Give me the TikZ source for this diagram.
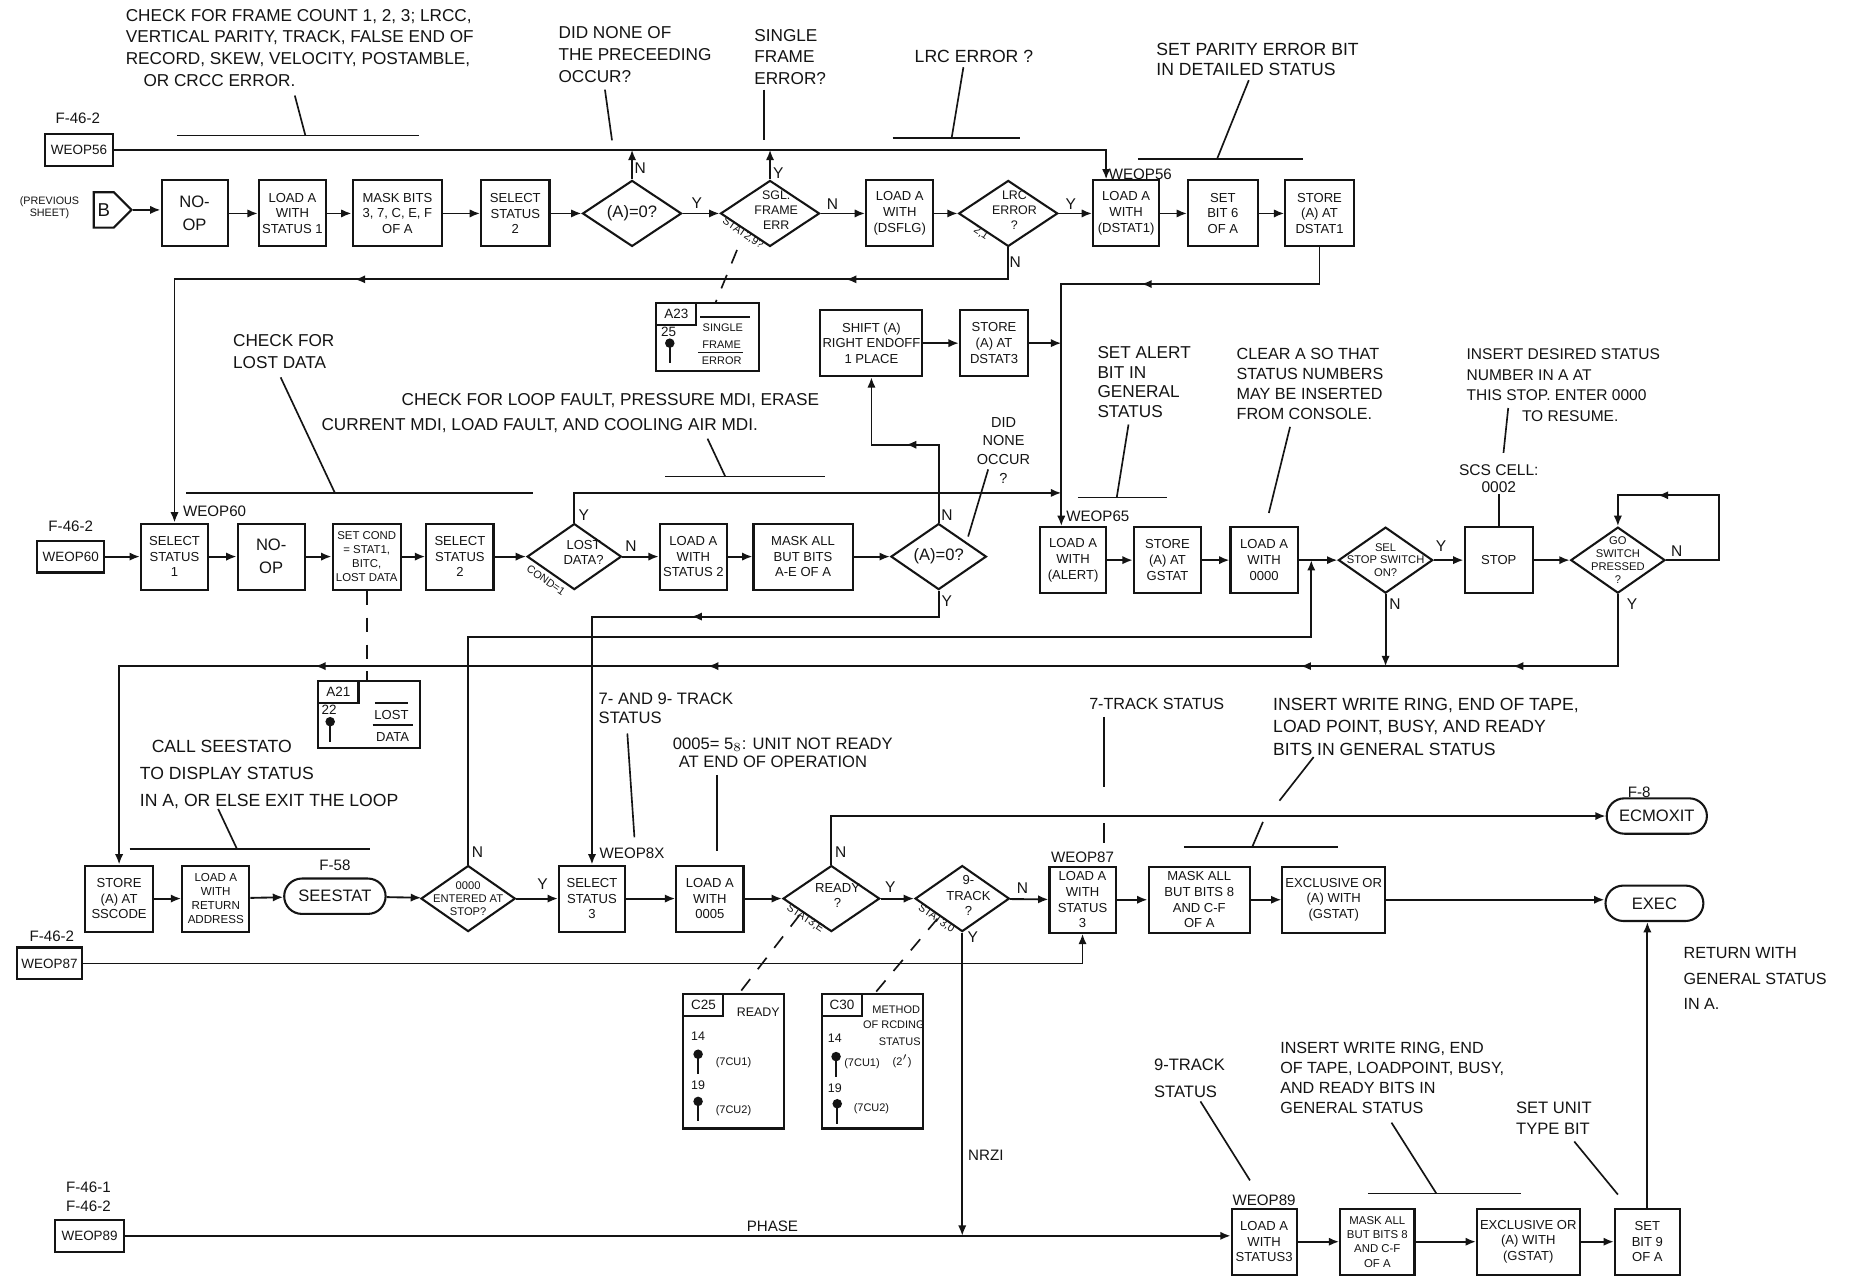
\documentclass[tikz,border=0pt]{standalone}
\usepackage{fontspec}
\setmainfont{Liberation Sans}
\usetikzlibrary{positioning,shapes.geometric,shapes.symbols,arrows.meta,decorations.markings}
\definecolor{flowInk}{HTML}{141414}
\tikzset{/pgf/decoration/tipat/.style={mark=at position #1 with {\arrow{Latex[length=5pt,width=4pt]}}}}

\begin{document}
\begin{tikzpicture}[
    x=0.02cm, y=-0.02cm,
    flowInk, line width=0.8pt,
    box/.style={draw, line width=1pt, minimum width=#1*0.02cm, minimum height=1.12cm, inner sep=1pt, align=center, font=\fontsize{6.3}{7.6}\selectfont},
    box/.default=57,
    dia/.style={draw, line width=1pt, diamond, inner sep=-0.4cm, minimum width=#1*0.02cm, minimum height=1.12cm, align=center, font=\fontsize{6}{6.8}\selectfont},
    dia/.default=84,
    term/.style={draw, line width=1pt, rounded corners=0.3cm, minimum width=#1*0.02cm, minimum height=0.6cm, inner sep=1pt, font=\fontsize{8}{9}\selectfont},
    offbox/.style={draw, line width=1pt, minimum width=#1*0.02cm, minimum height=0.54cm, inner sep=1pt, font=\fontsize{6.5}{7}\selectfont},
    refbox/.style={draw, line width=1pt, minimum width=#1*0.02cm},
    reftag/.style={draw, line width=1pt, anchor=north west, minimum width=0.68cm, minimum height=0.37cm, inner sep=1pt, font=\fontsize{6.5}{7}\selectfont},
    reftxt/.style={inner sep=0pt, font=\fontsize{5.3}{6}\selectfont},
    note/.style={anchor=north west, align=left, inner sep=0pt, font=\fontsize{8.3}{10.5}\selectfont},
    lbl/.style={inner sep=0pt, font=\fontsize{7.3}{8}\selectfont},
    minitxt/.style={inner sep=0pt, align=center, font=\fontsize{5.2}{6}\selectfont},
    yn/.style={inner sep=0pt, font=\fontsize{7.5}{8}\selectfont},
    arrow/.style={-{Latex[length=5pt,width=4pt]}, line width=0.9pt},
    lead/.style={line width=0.8pt},
    refdash/.style={line width=0.8pt, dash pattern=on 7pt off 6pt},
    midtips/.style={postaction={decorate}, decoration={markings, #1}},
    pinmark/.pic={\fill (0,0) circle (2.3pt); \draw[line width=1pt] (0,0) -- (0,17);}
]
    \fill[white] (0,0) rectangle (1568,1083);
    \useasboundingbox (0,0) rectangle (1568,1083);

    % first row
    \node[lbl] (f46a) at (66,100) {F-46-2};
    \node[offbox=57] (w56) at (67,127) {WEOP56};
    \node[minitxt] (prev) at (42,176) {(PREVIOUS\\SHEET)};
    \node[draw, line width=1pt, signal, signal to=east, minimum width=0.64cm, minimum height=0.6cm, inner sep=1pt, font=\fontsize{9}{10}\selectfont] (bcon) at (88,178) {B};
    \node[box=56, font=\fontsize{8}{11}\selectfont] (noop1) at (165,181) {NO-\\OP};
    \node[box] (lda1) at (248,181) {LOAD A\\WITH\\STATUS 1};
    \node[box=76] (mask1) at (337,181) {MASK BITS\\3, 7, C, E, F\\OF A};
    \node[box=58] (sel2a) at (437,181) {SELECT\\STATUS\\2};
    \node[dia, font=\fontsize{8}{9}\selectfont] (zero1) at (536,181) {(A)=0?};
    \node[dia] (sgl) at (653,181) {\hspace*{6pt}\raisebox{3pt}{\shortstack{SGL.\\FRAME\\ERR}}};
    \node[box] (ldflg) at (763,181) {LOAD A\\WITH\\(DSFLG)};
    \node[dia] (lrc) at (855,181) {\hspace*{6pt}\raisebox{3pt}{\shortstack{LRC\\ERROR\\?}}};
    \node[box=56] (ldst1) at (955,181) {LOAD A\\WITH\\(DSTAT1)};
    \node[box=59] (setb6) at (1037,181) {SET\\BIT 6\\OF A};
    \node[box=58] (stst1) at (1119,181) {STORE\\(A) AT\\DSTAT1};
    \node[minitxt, rotate=-34] (sglst) at (630,198) {STAT2,9?};
    \node[minitxt, rotate=-34] (lrcst) at (832,198) {2,1};
    \node[lbl] (l56) at (967,148) {WEOP56};

    \node[note] (nfc) at (106,7) {CHECK FOR FRAME COUNT 1, 2, 3; LRCC,\\VERTICAL PARITY, TRACK, FALSE END OF\\RECORD, SKEW, VELOCITY, POSTAMBLE,\\\hspace*{0.3cm}OR CRCC ERROR.};
    \node[note] (ndid) at (473,22) {DID NONE OF\\THE PRECEEDING\\OCCUR?};
    \node[note] (nsgle) at (639,24) {SINGLE\\FRAME\\ERROR?};
    \node[note, font=\fontsize{8.5}{10}\selectfont] (nlrc) at (775,42) {LRC ERROR ?};
    \node[note, font=\fontsize{8.5}{9.5}\selectfont] (npar) at (980,36) {SET PARITY ERROR BIT\\IN DETAILED STATUS};
    \draw[lead] (150,115) -- (355,115);
    \draw[lead] (250,81) -- (259,115);
    \draw[lead] (513,76) -- (519,119);
    \draw[lead] (648,76) -- (648,119);
    \draw[lead] (757,117) -- (865,117);
    \draw[lead] (817,57) -- (807,117);
    \draw[lead] (965,135) -- (1105,135);
    \draw[lead] (1059,68) -- (1032,135);

    % shift block and card references
    \node[box=86] (sh) at (739,291) {SHIFT (A)\\RIGHT ENDOFF\\1 PLACE};
    \node[box=58] (st3) at (843,291) {STORE\\(A) AT\\DSTAT3};
    \node[refbox=87, minimum height=1.16cm] (a23) at (600,286) {};
    \node[reftag] (a23t) at (a23.north west) {A23};
    \node[reftxt, font=\fontsize{6.5}{7}\selectfont] (a23n) at (567,281) {25};
    \pic at (568,291) {pinmark};
    \node[reftxt] (a23a) at (613,278) {SINGLE};
    \node[reftxt] (a23b) at (612,292) {FRAME};
    \node[reftxt] (a23c) at (612,306) {ERROR};
    \draw[lead] (594,269) -- (636,269);
    \draw[lead] (592,299) -- (630,299);

    % second row
    \node[lbl] (f46b) at (60,446) {F-46-2};
    \node[offbox=57] (w60) at (60,472) {WEOP60};
    \node[box] (ss1) at (148,472) {SELECT\\STATUS\\1};
    \node[box, font=\fontsize{8}{11}\selectfont] (noop2) at (230,472) {NO-\\OP};
    \node[box=58, font=\fontsize{5.5}{6.9}\selectfont] (scond) at (311,472) {SET COND\\= STAT1,\\BITC,\\LOST DATA};
    \node[box] (sel2b) at (390,472) {SELECT\\STATUS\\2};
    \node[dia=80, font=\fontsize{6.3}{7}\selectfont] (lost) at (487,472) {\hspace*{9pt}\raisebox{4pt}{\shortstack{LOST\\DATA?}}};
    \node[box] (ld2) at (588,472) {LOAD A\\WITH\\STATUS 2};
    \node[box=84] (maskae) at (681,472) {MASK ALL\\BUT BITS\\A-E OF A};
    \node[dia=81, font=\fontsize{8}{9}\selectfont] (zero2) at (796,472) {(A)=0?};
    \node[box=56] (ldal) at (910,475) {LOAD A\\WITH\\(ALERT)};
    \node[box] (stg) at (990,475) {STORE\\(A) AT\\GSTAT};
    \node[box] (ld0) at (1072,475) {LOAD A\\WITH\\0000};
    \node[dia=80, font=\fontsize{5.4}{6.2}\selectfont] (selsw) at (1175,475) {SEL\\STOP SWITCH\\ON?};
    \node[box=58] (stop) at (1271,475) {STOP};
    \node[dia=80, font=\fontsize{5.4}{6.2}\selectfont] (gosw) at (1372,475) {GO\\SWITCH\\PRESSED\\?};
    \node[minitxt, rotate=-35] (lostst) at (463,492) {COND=1};
    \node[lbl] (l60) at (182,434) {WEOP60};
    \node[lbl] (l65) at (931,438) {WEOP65};

    \node[note] (nlost) at (197,283) {CHECK FOR\\LOST DATA};
    \node[note, font=\fontsize{8.3}{12}\selectfont] (nloop) at (272,333) {\hspace*{1.36cm}CHECK FOR LOOP FAULT, PRESSURE MDI, ERASE\\CURRENT MDI, LOAD FAULT, AND COOLING AIR MDI.};
    \node[note, align=center, anchor=north, font=\fontsize{7}{9}\selectfont] (ndid2) at (851,353) {DID\\NONE\\OCCUR\\?};
    \node[note, font=\fontsize{8.3}{9.5}\selectfont] (nalert) at (930,293) {SET ALERT\\BIT IN\\GENERAL\\STATUS};
    \node[note, font=\fontsize{7.8}{9.5}\selectfont] (nclear) at (1048,295) {CLEAR A SO THAT\\STATUS NUMBERS\\MAY BE INSERTED\\FROM CONSOLE.};
    \node[note, font=\fontsize{7.5}{9.9}\selectfont] (nins) at (1243,295) {INSERT DESIRED STATUS\\NUMBER IN A AT\\THIS STOP. ENTER 0000\\\hspace*{0.94cm}TO RESUME.};
    \node[note, align=center, anchor=center, font=\fontsize{7.5}{8.5}\selectfont] (nscs) at (1271,406) {SCS CELL:\\0002};
    \draw[lead] (158,418) -- (452,418);
    \draw[lead] (238,320) -- (284,418);
    \draw[lead] (564,404) -- (700,404);
    \draw[lead] (600,372) -- (615,404);
    \draw[lead] (838,398) -- (821,455);
    \draw[lead] (914,422) -- (990,422);
    \draw[lead] (957,360) -- (947,422);
    \draw[lead] (1094,362) -- (1076,435);
    \draw[lead] (1279,346) -- (1275,384);
    \draw[lead] (nscs.south) -- (stop.north);

    \node[refbox=86, minimum height=1.14cm] (a21) at (313,606) {};
    \node[reftag] (a21t) at (a21.north west) {A21};
    \node[reftxt, font=\fontsize{6.5}{7}\selectfont] (a21n) at (279,602) {22};
    \pic at (280,612) {pinmark};
    \node[reftxt, font=\fontsize{6.3}{7}\selectfont] (a21a) at (332,606) {LOST};
    \node[reftxt, font=\fontsize{6.3}{7}\selectfont] (a21b) at (333,625) {DATA};
    \draw[lead] (318,596) -- (346,596);
    \draw[lead] (316,615) -- (350,615);

    % third row
    \node[box=58] (stsc) at (101,762) {STORE\\(A) AT\\SSCODE};
    \node[box, font=\fontsize{5.6}{6.8}\selectfont] (ldret) at (183,762) {LOAD A\\WITH\\RETURN\\ADDRESS};
    \node[term=86] (seest) at (284,760) {SEESTAT};
    \node[lbl] (f58) at (284,734) {F-58};
    \node[dia=80, font=\fontsize{5.4}{6.2}\selectfont] (ent) at (397,762) {0000\\ENTERED AT\\STOP?};
    \node[box=56] (sel3) at (502,762) {SELECT\\STATUS\\3};
    \node[box] (ld5) at (602,762) {LOAD A\\WITH\\0005};
    \node[dia=82, font=\fontsize{6.3}{7}\selectfont] (ready) at (705,762) {\hspace*{6pt}\raisebox{3pt}{\shortstack{READY\\?}}};
    \node[dia=80, font=\fontsize{6.3}{7}\selectfont] (trk9) at (816,762) {\hspace*{6pt}\raisebox{3pt}{\shortstack{9-\\TRACK\\?}}};
    \node[box=56] (ld87) at (918,763) {LOAD A\\WITH\\STATUS\\3};
    \node[box=86] (mask8) at (1017,763) {MASK ALL\\BUT BITS 8\\AND C-F\\OF A};
    \node[box=87] (xor1) at (1131,763) {EXCLUSIVE OR\\(A) WITH\\(GSTAT)};
    \node[term=83] (exec) at (1403,766) {EXEC};
    \node[term=85] (ecmo) at (1405,692) {ECMOXIT};
    \node[lbl] (f8) at (1390,672) {F-8};
    \node[minitxt, rotate=-34] (rdyst) at (683,779) {STAT3,E};
    \node[minitxt, rotate=-34] (trkst) at (794,779) {STAT3,0};
    \node[lbl] (l8x) at (536,724) {WEOP8X};
    \node[lbl] (l87) at (918,727) {WEOP87};
    \node[lbl] (f46e) at (44,794) {F-46-2};
    \node[offbox=55] (w87) at (42,817) {WEOP87};

    \node[note, font=\fontsize{8.5}{13}\selectfont] (ncall) at (118,627) {\hspace*{0.2cm}CALL SEESTATO\\TO DISPLAY STATUS\\IN A, OR ELSE EXIT THE LOOP};
    \node[note, font=\fontsize{8}{9}\selectfont] (n79) at (507,587) {7- AND 9- TRACK\\STATUS};
    \node[note, font=\fontsize{8}{8.7}\selectfont] (n0005) at (570,625) {0005= 5$_8$: UNIT NOT READY\\\hspace*{0.1cm}AT END OF OPERATION};
    \node[note, font=\fontsize{7.8}{9}\selectfont] (n7trk) at (923,591) {7-TRACK STATUS};
    \node[note, font=\fontsize{8.5}{11}\selectfont] (nwr1) at (1079,591) {INSERT WRITE RING, END OF TAPE,\\LOAD POINT, BUSY, AND READY\\BITS IN GENERAL STATUS};
    \node[note, font=\fontsize{7.8}{12.2}\selectfont] (nret) at (1427,803) {RETURN WITH\\GENERAL STATUS\\IN A.};
    \draw[lead] (110,720) -- (314,720);
    \draw[lead] (185,686) -- (201,720);
    \draw[lead] (532,622) -- (538,710);
    \draw[lead] (608,657) -- (608,722);
    \draw[lead] (936,608) -- (936,667);
    \draw[lead] (936,698) -- (936,715);
    \draw[lead] (1004,718) -- (1135,718);
    \draw[lead] (1114,642) -- (1085,679);
    \draw[lead] (1071,697) -- (1062,718);

    \node[refbox=85, minimum height=2.28cm] (c25) at (622,900) {};
    \node[reftag] (c25t) at (c25.north west) {C25};
    \node[reftxt, font=\fontsize{6}{7}\selectfont] (c25h) at (643,858) {READY};
    \node[reftxt, font=\fontsize{6}{7}\selectfont] (c25a) at (592,879) {14};
    \pic at (592,894) {pinmark};
    \node[reftxt] (c25b) at (622,901) {(7CU1)};
    \node[reftxt, font=\fontsize{6}{7}\selectfont] (c25c) at (592,920) {19};
    \pic at (592,934) {pinmark};
    \node[reftxt] (c25d) at (622,942) {(7CU2)};
    \node[refbox=86, minimum height=2.28cm] (c30) at (740,900) {};
    \node[reftag] (c30t) at (c30.north west) {C30};
    \node[reftxt] (c30h) at (760,856) {METHOD};
    \node[reftxt] (c30i) at (758,869) {OF RCDING};
    \node[reftxt, font=\fontsize{6}{7}\selectfont] (c30a) at (708,880) {14};
    \node[reftxt] (c30j) at (763,883) {STATUS};
    \pic at (709,896) {pinmark};
    \node[reftxt] (c30b) at (731,902) {(7CU1)};
    \node[reftxt] (c30k) at (765,900) {(2$'$)};
    \node[reftxt, font=\fontsize{6}{7}\selectfont] (c30c) at (708,923) {19};
    \pic at (710,936) {pinmark};
    \node[reftxt] (c30d) at (739,940) {(7CU2)};

    % bottom row
    \node[lbl] (f46c) at (75,1007) {F-46-1};
    \node[lbl] (f46d) at (75,1023) {F-46-2};
    \node[offbox=58] (w89) at (76,1048) {WEOP89};
    \node[box=55] (ld89) at (1072,1053) {LOAD A\\WITH\\STATUS3};
    \node[box=63, font=\fontsize{5.5}{6.9}\selectfont] (mask9) at (1168,1053) {MASK ALL\\BUT BITS 8\\AND C-F\\OF A};
    \node[box=87] (xor2) at (1296,1053) {EXCLUSIVE OR\\(A) WITH\\(GSTAT)};
    \node[box=55] (setb9) at (1397,1053) {SET\\BIT 9\\OF A};
    \node[lbl] (l89) at (1072,1018) {WEOP89};
    \node[lbl] (nnrzi) at (836,980) {NRZI};
    \node[lbl] (nphase) at (655,1040) {PHASE};
    \node[note, font=\fontsize{8}{13}\selectfont] (n9trk) at (978,897) {9-TRACK\\STATUS};
    \node[note, font=\fontsize{7.8}{9.6}\selectfont] (nwr2) at (1085,883) {INSERT WRITE RING, END\\OF TAPE, LOADPOINT, BUSY,\\AND READY BITS IN\\GENERAL STATUS};
    \node[note, font=\fontsize{8}{10}\selectfont] (nunit) at (1285,934) {SET UNIT\\TYPE BIT};
    \draw[lead] (1018,934) -- (1060,1001);
    \draw[lead] (1160,1012) -- (1290,1012);
    \draw[lead] (1180,952) -- (1218,1012);
    \draw[lead] (1335,968) -- (1372,1013);

    % junction points
    \coordinate (j56) at ([xshift=-0.34cm]ldst1.north);
    \coordinate (j65) at ([xshift=-0.2cm]ldal.north);
    \coordinate (jst3) at (900,291);
    \coordinate (jlost) at (900,418);
    \coordinate (jent) at (1112,475);
    \coordinate (jsel) at (1175,565);

    % yes / no marks
    \node[yn] (r1n) at (543,143) {N};
    \node[yn] (r1y) at (660,147) {Y};
    \node[yn] (r1y2) at (591,172) {Y};
    \node[yn] (r1n2) at (706,173) {N};
    \node[yn] (r1y3) at (908,173) {Y};
    \node[yn] (r1n3) at (861,222) {N};
    \node[yn] (r2y) at (495,437) {Y};
    \node[yn] (r2n) at (535,463) {N};
    \node[yn] (r2n2) at (803,437) {N};
    \node[yn] (r2y2) at (803,510) {Y};
    \node[yn] (r2y3) at (1222,463) {Y};
    \node[yn] (r2n3) at (1183,512) {N};
    \node[yn] (r2n4) at (1422,467) {N};
    \node[yn] (r2y4) at (1384,512) {Y};
    \node[yn] (r3n) at (405,723) {N};
    \node[yn] (r3y) at (460,750) {Y};
    \node[yn] (r3n2) at (713,723) {N};
    \node[yn] (r3y2) at (755,752) {Y};
    \node[yn] (r3n3) at (867,753) {N};
    \node[yn] (r3y3) at (825,795) {Y};

    % connectors
    \draw[arrow] (bcon.east) -- (bcon.east -| noop1.west);
    \draw[arrow] (noop1) -- (lda1);
    \draw[arrow] (lda1) -- (mask1);
    \draw[arrow] (mask1) -- (sel2a);
    \draw[arrow] (sel2a) -- (zero1);
    \draw[arrow] (zero1) -- (sgl);
    \draw[arrow] (sgl) -- (ldflg);
    \draw[arrow] (ldflg) -- (lrc);
    \draw[arrow] (lrc) -- (ldst1);
    \draw[arrow] (ldst1) -- (setb6);
    \draw[arrow] (setb6) -- (stst1);
    \draw[arrow] (w56) -| (j56);
    \draw[arrow] (zero1.north) -- (zero1.north |- w56.east);
    \draw[arrow] (sgl.north) -- (sgl.north |- w56.east);
    \draw[arrow, midtips={tipat=0.175, tipat=0.618}] (lrc.south) -- ++(0,27) -| (ss1.north);
    \draw[arrow, midtips={tipat=0.4}] (stst1.south) -- ++(0,31) -| (j65);
    \draw[refdash] ([shift={(-28,31)}]sgl.center) -- ([xshift=0.14cm]a23.north);
    \draw[arrow] (sh) -- (st3);
    \draw[arrow] (st3) -- (jst3);

    \draw[arrow] (w60) -- (ss1);
    \draw[arrow] (ss1) -- (noop2);
    \draw[arrow] (noop2) -- (scond);
    \draw[arrow] (scond) -- (sel2b);
    \draw[arrow] (sel2b) -- (lost);
    \draw[arrow] (lost) -- (ld2);
    \draw[arrow] (ld2) -- (maskae);
    \draw[arrow] (maskae) -- (zero2);
    \draw[arrow] (lost.north) |- (jlost);
    \draw[arrow, midtips={tipat=0.52}] (zero2.north) -- ++(0,-66) -| (sh.south);
    \draw[arrow, midtips={tipat=0.44}] (zero2.south) -- ++(0,22) -| (sel3.north);
    \draw[arrow] (ldal) -- (stg);
    \draw[arrow] (stg) -- (ld0);
    \draw[arrow] (ld0) -- (selsw);
    \draw[arrow] (selsw) -- (stop);
    \draw[arrow] (stop) -- (gosw);
    \draw[arrow, midtips={tipat=0.717}] (gosw.east) -- ++(45,0) -- ++(0,-55) -| (gosw.north);
    \draw[arrow] (selsw.south) -- (jsel);
    \draw[arrow, midtips={tipat=0.10, tipat=0.22, tipat=0.555, tipat=0.777}] (gosw.south) -- ++(0,61) -| (stsc.north);
    \draw[arrow] (ent.north) -- ++(0,-193) -| (jent);
    \draw[refdash] (scond.south) -- (scond.south |- a21.north);

    \draw[arrow] (stsc) -- (ldret);
    \draw[arrow] (ldret) -- (seest);
    \draw[arrow] (seest) -- (ent);
    \draw[arrow] (ent) -- (sel3);
    \draw[arrow] (sel3) -- (ld5);
    \draw[arrow] (ld5) -- (ready);
    \draw[arrow] (ready) -- (trk9);
    \draw[arrow] (trk9) -- (ld87);
    \draw[arrow] (ld87) -- (mask8);
    \draw[arrow] (mask8) -- (xor1);
    \draw[arrow] (xor1) -- (xor1 -| exec.west);
    \draw[arrow] (ready.north) |- (ecmo.west);
    \draw[arrow] (w87) -| (ld87.south);
    \draw[arrow] (trk9.south) -- (trk9.south |- w89.east);
    \draw[refdash] ([shift={(-27,14)}]ready.center) -- ([xshift=0.1cm]c25.north);
    \draw[refdash] ([shift={(-21,17)}]trk9.center) -- ([xshift=0.04cm]c30.north);

    \draw[arrow] (w89.east) -- (w89.east -| ld89.west);
    \draw[arrow] (ld89) -- (mask9);
    \draw[arrow] (mask9) -- (xor2);
    \draw[arrow] (xor2) -- (setb9);
    \draw[arrow] (setb9.north) -- (setb9.north |- exec.south);
\end{tikzpicture}
\end{document}
